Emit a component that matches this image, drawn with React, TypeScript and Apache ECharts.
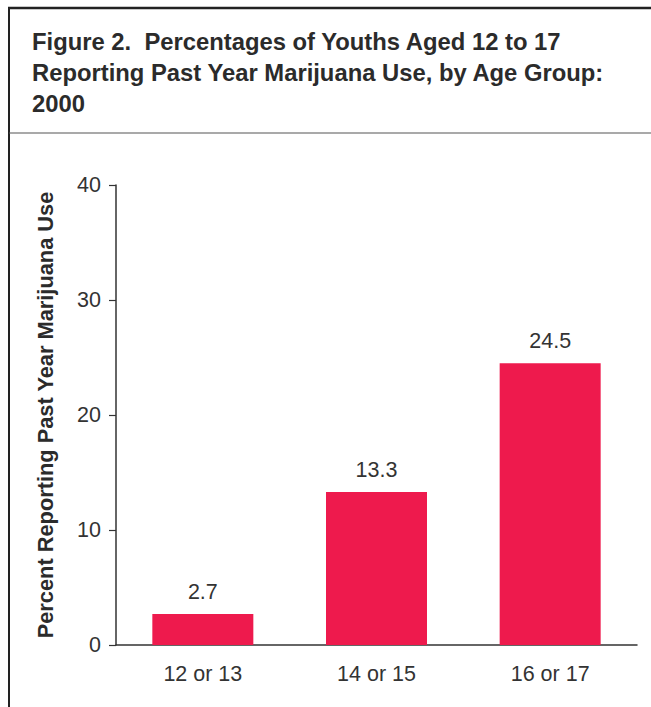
import React, { useEffect, useRef } from "react";
import * as echarts from "echarts";

const categories = ["12 or 13", "14 or 15", "16 or 17"];
const values = [2.7, 13.3, 24.5];
const titleLines = [
  "Figure 2.  Percentages of Youths Aged 12 to 17",
  "Reporting Past Year Marijuana Use, by Age Group:",
  "2000",
];
const yAxisName = "Percent Reporting Past Year Marijuana Use";

const FONT = "'Liberation Sans', Arial, Helvetica, sans-serif";

export default function App() {
  const ref = useRef<HTMLDivElement>(null);
  useEffect(() => {
    if (!ref.current) return;
    const chart = echarts.init(ref.current, null, { renderer: "svg" });
    chart.setOption({
      animation: false,
      backgroundColor: "#ffffff",
      title: {
        text: titleLines.join("\n"),
        left: 27,
        top: 21,
        textStyle: {
          fontFamily: FONT,
          fontWeight: "bold",
          fontSize: 23.8,
          lineHeight: 31,
          color: "#2b2b2b",
        },
      },
      graphic: [
        { type: "line", shape: { x1: 9, y1: 8, x2: 9, y2: 707 }, style: { stroke: "#222", lineWidth: 2 } },
        { type: "line", shape: { x1: 8, y1: 8, x2: 651, y2: 8 }, style: { stroke: "#222", lineWidth: 2.5 } },
        { type: "line", shape: { x1: 9, y1: 133, x2: 651, y2: 133 }, style: { stroke: "#555", lineWidth: 1.2 } },
      ],
      grid: { left: 116, right: 14, top: 185, bottom: 62 },
      xAxis: {
        type: "category",
        data: categories,
        axisLine: { lineStyle: { color: "#333", width: 1.5 } },
        axisTick: { show: false },
        axisLabel: { fontFamily: FONT, fontSize: 21.5, color: "#333", margin: 18 },
      },
      yAxis: {
        type: "value",
        min: 0,
        max: 40,
        interval: 10,
        name: yAxisName,
        nameLocation: "middle",
        nameGap: 60,
        nameTextStyle: { fontFamily: FONT, fontSize: 21.8, fontWeight: "bold", color: "#2b2b2b" },
        axisLine: { show: true, lineStyle: { color: "#333", width: 1.5 } },
        axisTick: { show: true, length: 7, lineStyle: { color: "#333", width: 1.2 } },
        axisLabel: { fontFamily: FONT, fontSize: 21.5, color: "#333", margin: 15 },
        splitLine: { show: false },
      },
      series: [
        {
          type: "bar",
          data: values,
          barWidth: 101,
          itemStyle: { color: "#EE1A4D" },
          label: {
            show: true,
            position: "top",
            distance: 11,
            fontFamily: FONT,
            fontSize: 21.5,
            color: "#333",
          },
        },
      ],
    });
    return () => chart.dispose();
  }, []);
  return (
    <div
      ref={ref}
      style={{ position: "fixed", left: 0, top: 0, width: 651, height: 707 }}
    />
  );
}
